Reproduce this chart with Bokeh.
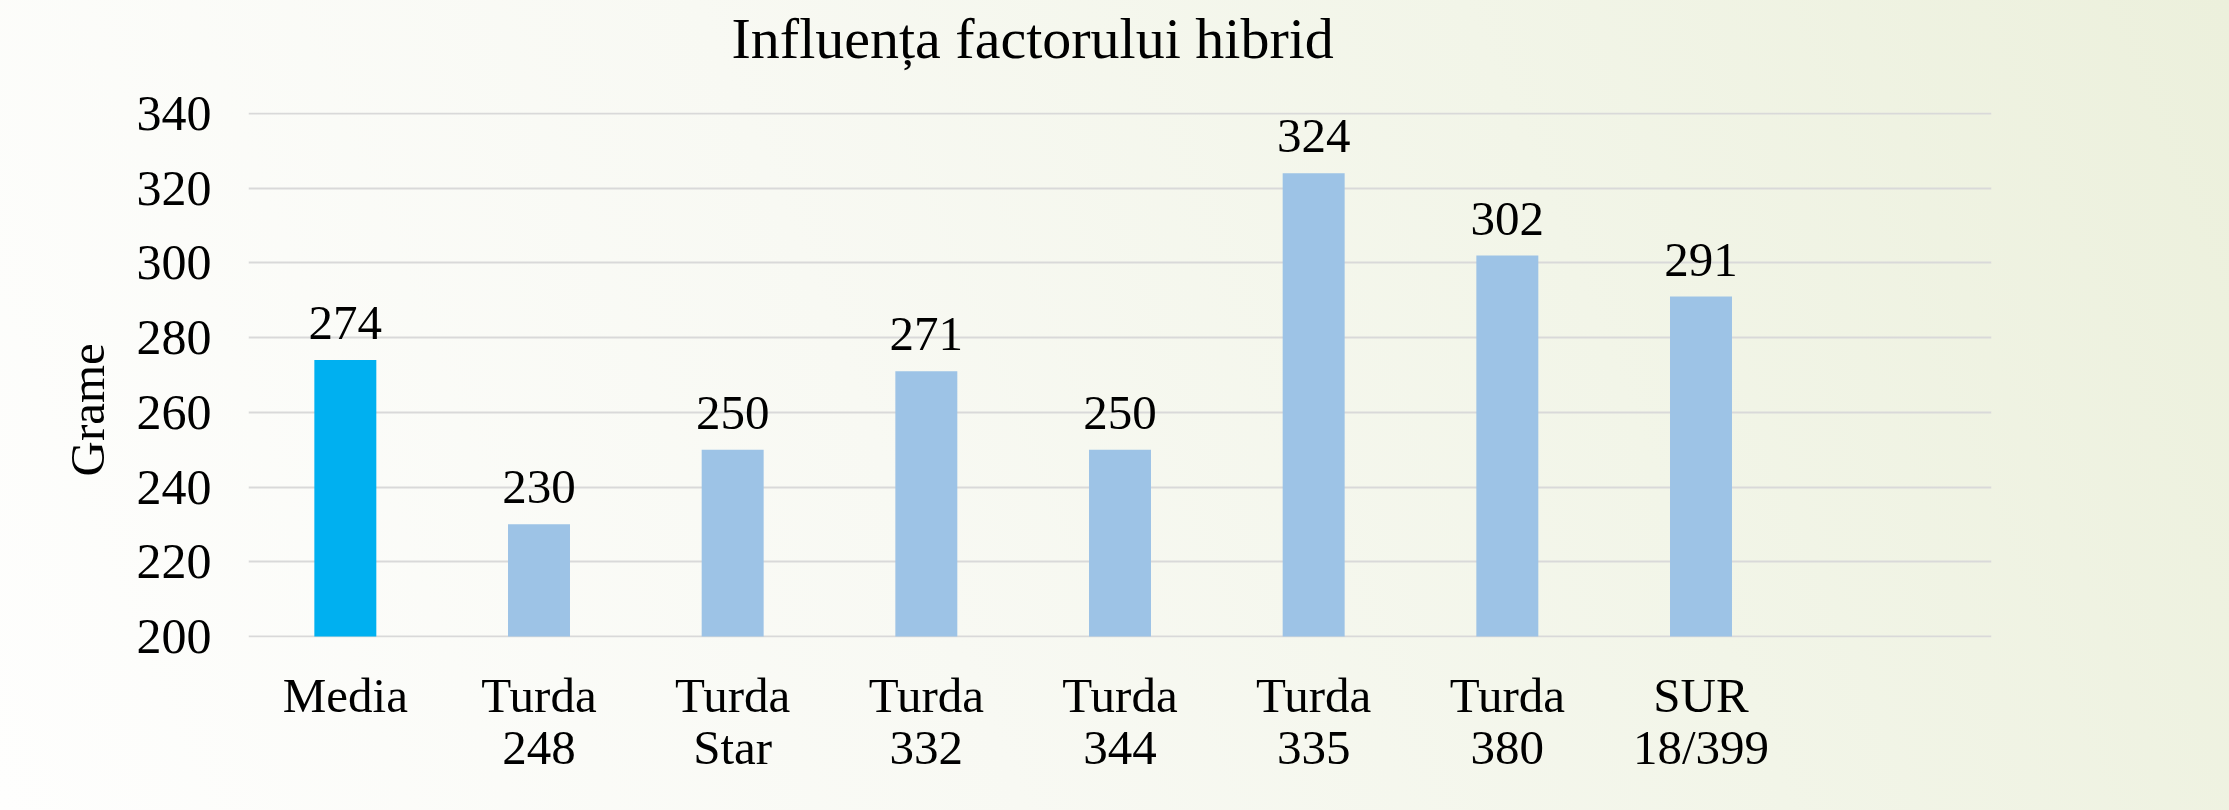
from bokeh.plotting import figure
from bokeh.models import ColumnDataSource, LabelSet, FixedTicker, Title
from bokeh.embed import file_html
from bokeh.resources import INLINE

# ---- data ----
categories = ["Media", "Turda\n248", "Turda\nStar", "Turda\n332", "Turda\n344",
              "Turda\n335", "Turda\n380", "SUR\n18/399"]
values = [274, 230, 250, 271, 250, 324, 302, 291]
bar_colors = ["#00B0F0", "#9DC3E6", "#9DC3E6", "#9DC3E6", "#9DC3E6",
              "#9DC3E6", "#9DC3E6", "#9DC3E6"]
y_ticks = [200, 220, 240, 260, 280, 300, 320, 340]
title_text = "Influența factorului hibrid"
y_label = "Grame"

FONT = "Liberation Serif"

factors = categories + [" "]  # empty slot at the right, as in the reference

source = ColumnDataSource(dict(
    cat=categories,
    val=values,
    color=bar_colors,
    label=[str(v) for v in values],
))

p = figure(
    x_range=factors,
    y_range=(199.7, 340.3),
    frame_width=1743, frame_height=525,
    min_border_left=248, min_border_right=238,
    min_border_top=112, min_border_bottom=173,
    output_backend="svg", toolbar_location=None,
)
p.styles = {"background": "linear-gradient(68deg, #fefefd 0%, #f8f9f3 40%, #f2f5e8 70%, #ecf0dc 100%)"}
p.background_fill_alpha = 0
p.border_fill_alpha = 0
p.outline_line_color = None

# gap between the chart title and the plot area (an invisible spacer title)
spacer = Title(text=" ", text_font=FONT, text_font_size="10px", standoff=29)
p.add_layout(spacer, "above")
# chart title
main_title = Title(text=title_text, align="left", offset=483,
                   text_font=FONT, text_font_size="58px",
                   text_font_style="normal", text_color="#000000", standoff=0)
p.add_layout(main_title, "above")

p.vbar(x="cat", top="val", bottom=200, width=0.32, color="color",
       line_color=None, source=source)

labels = LabelSet(x="cat", y="val", text="label", source=source,
                  text_align="center", text_baseline="alphabetic", y_offset=21,
                  text_font=FONT, text_font_size="49px", text_color="#000000")
p.add_layout(labels)

# grid
p.xgrid.grid_line_color = None
p.ygrid.grid_line_color = "#d9d9d9"
p.ygrid.grid_line_width = 2

# y axis title, placed like the reference (slightly below the frame centre)
ytitle = Title(text=y_label, align="left", offset=161,
               text_font=FONT, text_font_size="49px",
               text_font_style="normal", text_color="#000000", standoff=38)
p.add_layout(ytitle, "left")

# y axis
p.yaxis.ticker = FixedTicker(ticks=y_ticks)
p.yaxis.major_label_text_font = FONT
p.yaxis.major_label_text_font_size = "50px"
p.yaxis.major_label_text_color = "#000000"
p.yaxis.major_label_standoff = 31
p.yaxis.axis_line_color = None
p.yaxis.major_tick_line_color = None
p.yaxis.minor_tick_line_color = None

# x axis
p.xaxis.major_label_text_font = FONT
p.xaxis.major_label_text_font_size = "49px"
p.xaxis.major_label_text_color = "#000000"
p.xaxis.major_label_text_line_height = 0.95
p.xaxis.major_label_standoff = 24
p.xaxis.axis_line_color = None
p.xaxis.major_tick_line_color = None
p.xaxis.minor_tick_line_color = None

open("out.html", "w").write(file_html(p, INLINE))
